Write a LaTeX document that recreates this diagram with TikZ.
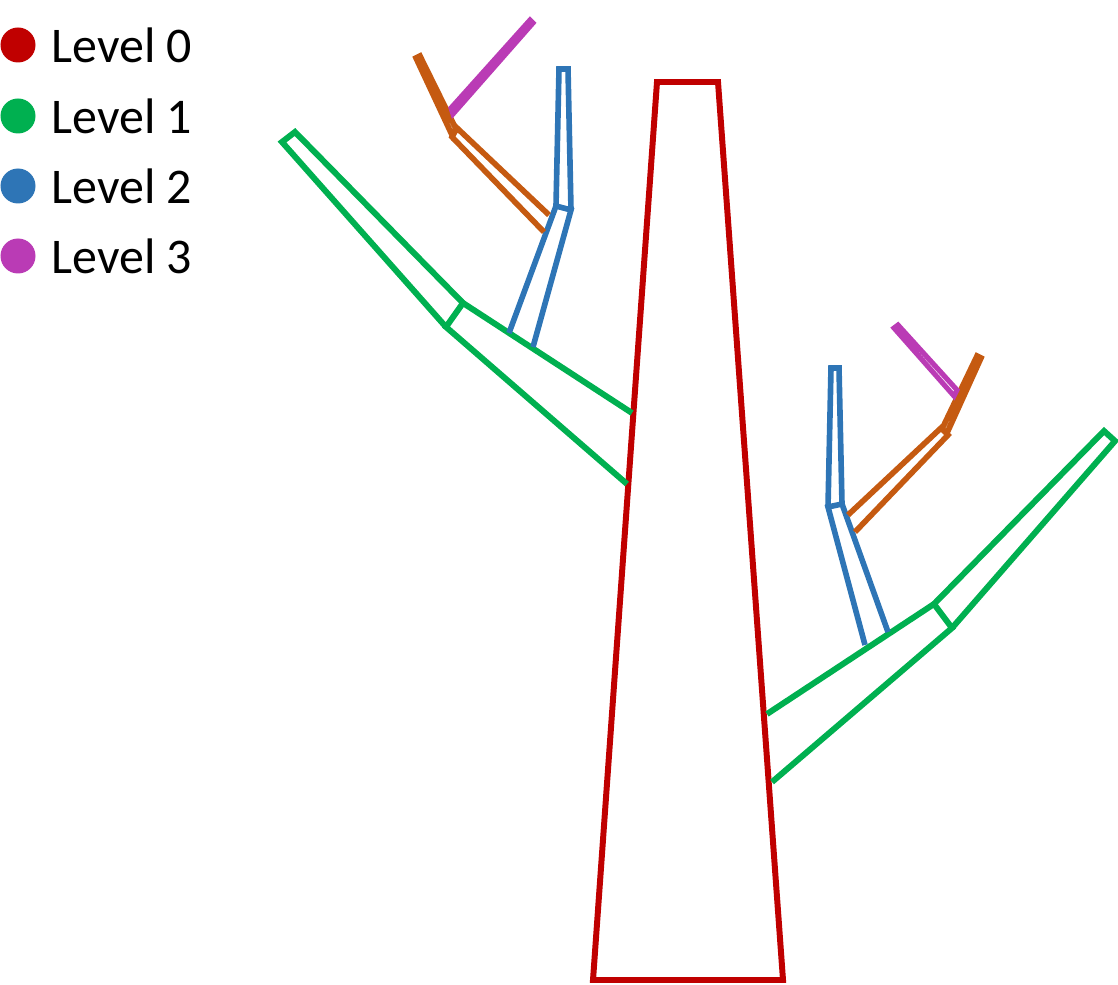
\documentclass[tikz,border=0pt]{standalone}
\usepackage{fontspec}
\setmainfont{Carlito}
\usepackage{tikz}
\usetikzlibrary{positioning}
\definecolor{lvlzero}{HTML}{C00000}
\definecolor{lvlone}{HTML}{00B050}
\definecolor{lvltwo}{HTML}{2E75B6}
\definecolor{lvlthree}{HTML}{BA3BB5}
\definecolor{twig}{HTML}{C55A11}
\newcommand{\legendentry}[4]{%
  \fill[#2] (18,#3) circle (17.5);
  \node[anchor=west,font=\fontsize{14.2}{17}\selectfont,inner sep=0pt] (#1) at (51,#3) {#4};}

\begin{document}
\begin{tikzpicture}[x=0.01cm,y=-0.01cm,line join=miter]
\useasboundingbox (0,0) rectangle (1118,985);
% legend
\legendentry{leg0}{lvlzero}{45}{Level 0}
\legendentry{leg1}{lvlone}{116}{Level 1}
\legendentry{leg2}{lvltwo}{186}{Level 2}
\legendentry{leg3}{lvlthree}{256}{Level 3}
% trunk
\draw[lvlzero,line width=1.7pt] (657,82)--(718,82)--(783,980)--(593,980)--cycle;
% left branch
\draw[lvlone,line width=1.7pt] (632,413)--(463,303)--(446,327)--(627,484);
\draw[lvlone,line width=1.7pt] (463,303)--(295,132)--(282,142)--(446,327);
\draw[lvltwo,line width=1.6pt] (509,333)--(556,206)--(571,210)--(533,347);
\draw[lvltwo,line width=1.6pt] (556,206)--(559,69)--(568,69)--(571,210);
\draw[twig,line width=1.6pt] (549,215)--(457,128)--(452,137)--(544,232);
\draw[twig,line width=1.6pt] (452,135)--(416,58)--(420,56)--(456,129)--cycle;
\draw[lvlthree,line width=1.45pt] (451,108)--(530,20)--(533,23)--(453,114)--cycle;
% right branch
\draw[lvlone,line width=1.7pt] (767,714)--(934,604)--(952,628)--(772,782);
\draw[lvlone,line width=1.7pt] (934,604)--(1104,431)--(1115,441)--(952,628);
\draw[lvltwo,line width=1.6pt] (865,645)--(828,507)--(842,504)--(888,632);
\draw[lvltwo,line width=1.6pt] (828,507)--(831,368)--(839,368)--(842,504);
\draw[twig,line width=1.6pt] (848,515)--(941,428)--(948,435)--(855,532);
\draw[twig,line width=1.6pt] (942,429)--(977,356)--(981,358)--(947,433)--cycle;
\draw[lvlthree,line width=1.45pt] (957,390)--(898,325)--(894,328)--(954,396)--cycle;
\end{tikzpicture}
\end{document}
